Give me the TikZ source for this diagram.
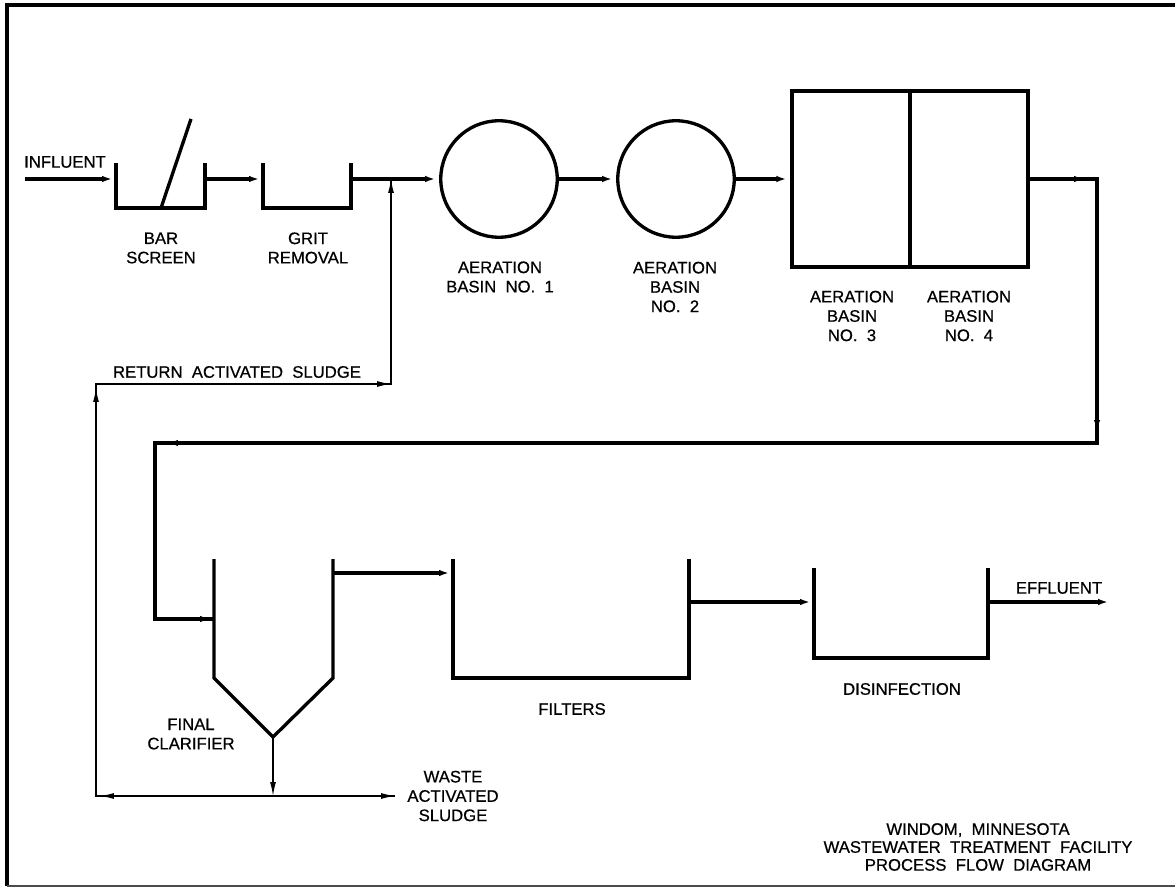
\documentclass[tikz,border=0pt]{standalone}
\usepackage{fontspec}
\setmainfont[WordSpace=2, FakeBold=0.6]{Liberation Sans}
\usetikzlibrary{arrows.meta, positioning, calc}

\begin{document}
\begin{tikzpicture}[
    x=0.02cm, y=-0.02cm,
    pipe/.style={line width=1.9pt, line join=miter},
    tank/.style={line width=1.9pt, line join=miter},
    sludge/.style={line width=0.7pt, line join=miter},
    basin/.style={draw, circle, line width=1.9pt, minimum size=2.33cm, inner sep=0pt},
    cell/.style={draw, rectangle, line width=1.9pt, minimum width=2.36cm, minimum height=3.52cm, inner sep=0pt},
    lbl/.style={font=\fontsize{9.5}{11}\selectfont, align=center, inner sep=0pt},
    >={Latex[length=2.8mm, width=1.2mm]}
]
  \useasboundingbox (0,0) rectangle (1175,888);
  % sheet border
  \draw[line width=2.6pt] (1175,5) -- (7,5) -- (7,886);
  \draw[line width=0.8pt, black!70] (7,886) -- (1175,886);

  % headworks
  \coordinate (in) at (25,179);
  \coordinate (bs-w) at (116,179);
  \coordinate (bs-e) at (205,179);
  \coordinate (gr-w) at (263,179);
  \coordinate (gr-e) at (351,179);
  \coordinate (ras-j) at (391,179);
  \draw[tank] (116,163) |- (205,208) -- (205,163);
  \draw[tank] (161,208) -- (191,119);
  \draw[tank] (263,163) |- (351,208) -- (351,163);

  % aeration basins
  \node[basin] (ab1) at (499,179) {};
  \node[basin] (ab2) at (676,179) {};
  \node[cell] (ab3) at (851,179) {};
  \node[cell] (ab4) at (969,179) {};

  % final clarifier, filters, disinfection
  \coordinate (fc-w) at (214,619);
  \coordinate (fc-e) at (333,573);
  \coordinate (fc-apex) at (273,737);
  \coordinate (fi-w) at (453,573);
  \coordinate (fi-e) at (689,602);
  \coordinate (di-w) at (814,602);
  \coordinate (di-e) at (988,602);
  \coordinate (out) at (1112,602);
  \draw[tank] (214,559) -- (214,678) -- (fc-apex) -- (333,678) -- (333,559);
  \draw[tank] (453,559) |- (689,678) -- (689,559);
  \draw[tank] (814,568) |- (988,658) -- (988,568);

  % pipe corners
  \coordinate (c1) at (1097,179);
  \coordinate (c2) at (1097,443);
  \coordinate (c3) at (155,443);
  \coordinate (c4) at (155,619);
  \coordinate (ras-c) at (96,384);
  \coordinate (ras-e) at (391,384);
  \coordinate (was-j) at (273,796);
  \coordinate (was-l) at (96,796);
  \coordinate (was-r) at (395,796);

  % main flow
  \draw[pipe, ->] (in) -- (bs-w);
  \draw[pipe, ->] (bs-e) -- (gr-w);
  \draw[pipe] (gr-e) -- (ras-j);
  \draw[pipe, ->] (ras-j) -- (ab1.west);
  \draw[pipe, ->] (ab1.east) -- (ab2.west);
  \draw[pipe, ->] (ab2.east) -- (ab3.west);
  \draw[pipe] (ab4.east) -- (c1) -- (c2) -- (c3) -- (c4) -- (fc-w);
  \draw[pipe, ->, shorten >=1.8mm] (ab4.east) -- (c1);
  \draw[pipe, ->, shorten >=1.8mm] (c1) -- (c2);
  \draw[pipe, ->, shorten >=1.8mm] (c2) -- (c3);
  \draw[pipe, ->] (c4) -- (fc-w);
  \draw[pipe, ->] (fc-e) -- (fi-w);
  \draw[pipe, ->] (fi-e) -- (di-w);
  \draw[pipe, ->] (di-e) -- (out);

  % sludge lines
  \draw[sludge] (was-r) -- (was-l) -- (ras-c) -- (ras-e) -- (ras-j);
  \draw[sludge, ->] (fc-apex) -- (was-j);
  \draw[sludge, ->, shorten >=0.8mm] (was-j) -- (was-l);
  \draw[sludge, ->] (was-j) -- (was-r);
  \draw[sludge, ->, shorten >=0.8mm] (was-l) -- (ras-c);
  \draw[sludge, ->] (ras-c) -- (ras-e);
  \draw[sludge, ->] (ras-e) -- (ras-j);

  % labels
  \node[lbl] (influent) at (65,162) {INFLUENT};
  \node[lbl] (bs-lbl) at (161,248) {BAR\\SCREEN};
  \node[lbl] (gr-lbl) at (308,248) {GRIT\\REMOVAL};
  \node[lbl] (ab1-lbl) at (500,277) {AERATION\\BASIN NO. 1};
  \node[lbl] (ab2-lbl) at (675,287) {AERATION\\BASIN\\NO. 2};
  \node[lbl] (ab3-lbl) at (852,316) {AERATION\\BASIN\\NO. 3};
  \node[lbl] (ab4-lbl) at (969,316) {AERATION\\BASIN\\NO. 4};
  \node[lbl] (ras-lbl) at (237,372) {RETURN ACTIVATED SLUDGE};
  \node[lbl] (fc-lbl) at (191,734) {FINAL\\CLARIFIER};
  \node[lbl] (was-lbl) at (453,796) {WASTE\\ACTIVATED\\SLUDGE};
  \node[lbl] (fi-lbl) at (572,709) {FILTERS};
  \node[lbl] (di-lbl) at (902,689) {DISINFECTION};
  \node[lbl] (effluent) at (1059,588) {EFFLUENT};
  \node[lbl, font=\fontsize{9.5}{10.2}\selectfont] (title) at (978,847) {WINDOM, MINNESOTA\\WASTEWATER TREATMENT FACILITY\\PROCESS FLOW DIAGRAM};
\end{tikzpicture}
\end{document}
